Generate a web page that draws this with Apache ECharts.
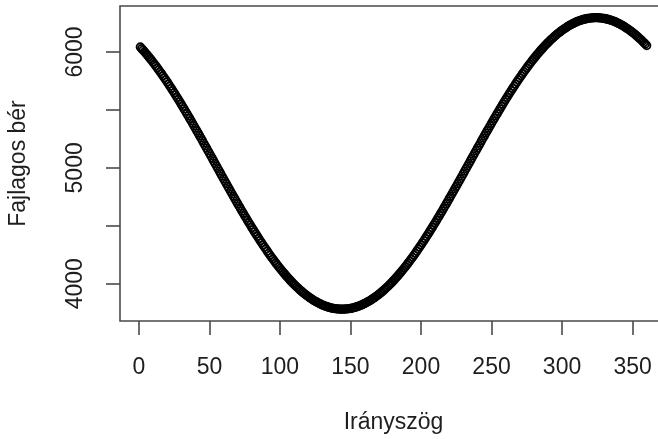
<!DOCTYPE html>
<html>
<head>
<meta charset="utf-8">
<script src="https://cdn.jsdelivr.net/npm/echarts@6/dist/echarts.min.js"></script>
<style>
html,body{margin:0;padding:0;background:#fff;}
#chart{width:658px;height:439px;}
</style>
</head>
<body>
<div id="chart"></div>
<script>
// Direction angle (degrees), one observation per degree
const angles = [
1,2,3,4,5,6,7,8,9,10,11,12,13,14,15,16,17,18,19,20,
21,22,23,24,25,26,27,28,29,30,31,32,33,34,35,36,37,38,39,40,
41,42,43,44,45,46,47,48,49,50,51,52,53,54,55,56,57,58,59,60,
61,62,63,64,65,66,67,68,69,70,71,72,73,74,75,76,77,78,79,80,
81,82,83,84,85,86,87,88,89,90,91,92,93,94,95,96,97,98,99,100,
101,102,103,104,105,106,107,108,109,110,111,112,113,114,115,116,117,118,119,120,
121,122,123,124,125,126,127,128,129,130,131,132,133,134,135,136,137,138,139,140,
141,142,143,144,145,146,147,148,149,150,151,152,153,154,155,156,157,158,159,160,
161,162,163,164,165,166,167,168,169,170,171,172,173,174,175,176,177,178,179,180,
181,182,183,184,185,186,187,188,189,190,191,192,193,194,195,196,197,198,199,200,
201,202,203,204,205,206,207,208,209,210,211,212,213,214,215,216,217,218,219,220,
221,222,223,224,225,226,227,228,229,230,231,232,233,234,235,236,237,238,239,240,
241,242,243,244,245,246,247,248,249,250,251,252,253,254,255,256,257,258,259,260,
261,262,263,264,265,266,267,268,269,270,271,272,273,274,275,276,277,278,279,280,
281,282,283,284,285,286,287,288,289,290,291,292,293,294,295,296,297,298,299,300,
301,302,303,304,305,306,307,308,309,310,311,312,313,314,315,316,317,318,319,320,
321,322,323,324,325,326,327,328,329,330,331,332,333,334,335,336,337,338,339,340,
341,342,343,344,345,346,347,348,349,350,351,352,353,354,355,356,357,358,359,360
];
// Specific wage (Fajlagos bér)
const wages = [
6043,6029,6016,6002,5987,5973,5958,5943,5928,5912,
5896,5880,5863,5847,5830,5813,5795,5777,5760,5742,
5723,5705,5686,5667,5648,5629,5609,5590,5570,5550,
5530,5509,5489,5468,5448,5427,5406,5385,5364,5342,
5321,5300,5278,5257,5235,5213,5191,5170,5148,5126,
5104,5082,5060,5038,5016,4994,4972,4950,4928,4906,
4885,4863,4841,4819,4798,4776,4755,4734,4712,4691,
4670,4649,4628,4608,4587,4567,4546,4526,4506,4486,
4467,4447,4428,4409,4390,4371,4353,4334,4316,4299,
4281,4263,4246,4229,4213,4196,4180,4164,4148,4133,
4118,4103,4089,4074,4060,4047,4033,4020,4007,3995,
3983,3971,3960,3948,3938,3927,3917,3907,3898,3889,
3880,3872,3864,3856,3848,3842,3835,3829,3823,3817,
3812,3807,3803,3799,3795,3792,3789,3787,3785,3783,
3782,3781,3780,3780,
3780,3781,3782,3783,3785,3787,3789,3792,3795,3799,
3803,3807,3812,3817,3823,3829,3835,3842,3848,3856,
3864,3872,3880,3889,3898,3907,3917,3927,3938,3948,
3960,3971,3983,3995,4007,4020,4033,4047,4060,4074,
4089,4103,4118,4133,4148,4164,4180,4196,4213,4229,
4246,4263,4281,4299,4316,4334,4353,4371,4390,4409,
4428,4447,4467,4486,4506,4526,4546,4567,4587,4608,
4628,4649,4670,4691,4712,4734,4755,4776,4798,4819,
4841,4863,4885,4906,4928,4950,4972,4994,5016,5038,
5060,5082,5104,5126,5148,5170,5191,5213,5235,5257,
5278,5300,5321,5342,5364,5385,5406,5427,5448,5468,
5489,5509,5530,5550,5570,5590,5609,5629,5648,5667,
5686,5705,5723,5742,5760,5777,5795,5813,5830,5847,
5863,5880,5896,5912,5928,5943,5958,5973,5987,6002,
6016,6029,6043,6056,6069,6081,6093,6105,6116,6128,
6138,6149,6159,6169,6178,6187,6196,6204,6212,6220,
6228,6234,6241,6247,6253,6259,6264,6269,6273,6277,
6281,6284,6287,6289,6291,6293,6294,6295,6296,6296,
6296,6295,6294,6293,6291,6289,6287,6284,6281,6277,
6273,6269,6264,6259,6253,6247,6241,6234,6228,6220,
6212,6204,6196,6187,6178,6169,6159,6149,6138,6128,
6116,6105,6093,6081,6069,6056
];
const xTicks = [0, 50, 100, 150, 200, 250, 300, 350];
const yTicks = [4000, 4500, 5000, 5500, 6000];
const yLabels = [4000, 5000, 6000];
const xTitle = 'Irányszög';
const yTitle = 'Fajlagos bér';

const points = angles.map((a, i) => [a, wages[i]]);
const FONT = 'Liberation Sans, Arial, sans-serif';
const TXT = '#1e1e1e';
const LINE = '#4a4a4a';

const chart = echarts.init(document.getElementById('chart'), null, {renderer: 'canvas'});
chart.setOption({
  animation: false,
  backgroundColor: '#fff',
  grid: {
    left: 120, top: 6, width: 547, height: 315,
    outerBoundsMode: 'none', containLabel: false,
    show: true, borderColor: LINE, borderWidth: 1.6, backgroundColor: 'transparent'
  },
  xAxis: {
    type: 'value', min: -13.4, max: 374.4,
    splitLine: {show: false},
    axisLine: {show: false, onZero: false},
    axisTick: {show: true, inside: false, customValues: xTicks, length: 14, lineStyle: {color: LINE, width: 1.6}},
    axisLabel: {customValues: xTicks, margin: 35, color: TXT, fontFamily: FONT, fontSize: 23,
      formatter: v => String(v)},
    name: xTitle, nameLocation: 'middle', nameGap: 90,
    nameTextStyle: {color: TXT, fontFamily: FONT, fontSize: 23}
  },
  yAxis: {
    type: 'value', min: 3678, max: 6397,
    splitLine: {show: false},
    axisLine: {show: false, onZero: false},
    axisTick: {show: true, inside: false, customValues: yTicks, length: 14, lineStyle: {color: LINE, width: 1.6}},
    axisLabel: {customValues: yLabels, rotate: 90, margin: 33, color: TXT, fontFamily: FONT, fontSize: 23,
      formatter: v => String(v)},
    name: yTitle, nameLocation: 'middle', nameGap: 90, nameRotate: 90,
    nameTextStyle: {color: TXT, fontFamily: FONT, fontSize: 23}
  },
  series: [{
    type: 'scatter',
    data: points,
    symbol: 'circle',
    symbolSize: 7.5,
    itemStyle: {color: 'rgba(0,0,0,0)', borderColor: '#000', borderWidth: 1.8, opacity: 1}
  }]
});
</script>
</body>
</html>
